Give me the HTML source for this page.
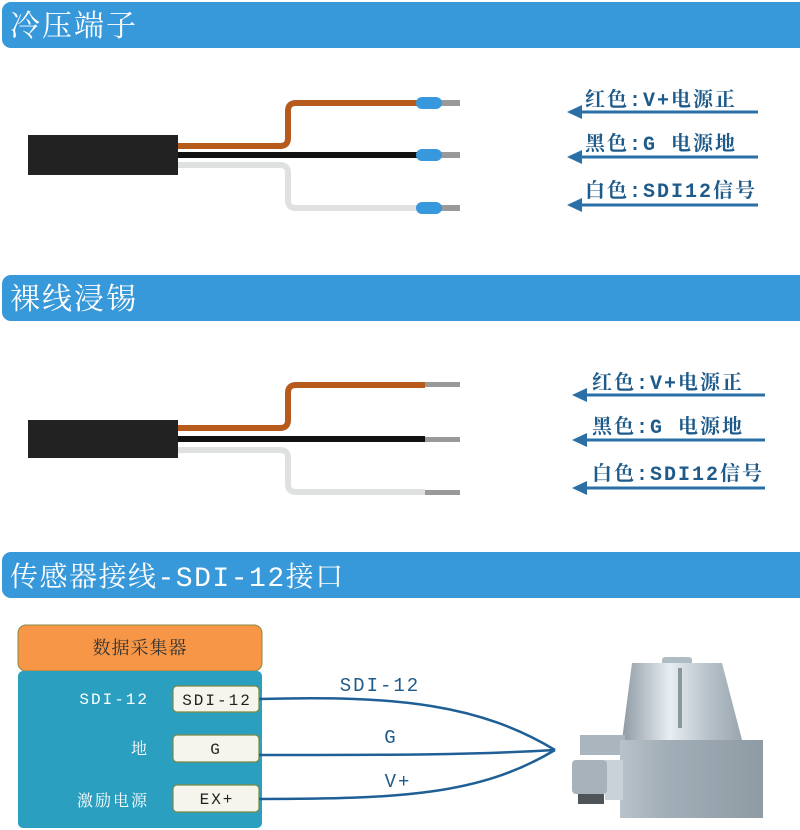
<!DOCTYPE html>
<html><head><meta charset="utf-8"><style>
body{margin:0;background:#fff;}
svg{display:block;}
text{font-family:"Liberation Mono","Noto Serif CJK SC","Noto Sans CJK SC",monospace;}
</style></head><body>
<svg width="800" height="830" viewBox="0 0 800 830" xmlns="http://www.w3.org/2000/svg">
<defs>
<linearGradient id="cone" x1="0" x2="1"><stop offset="0" stop-color="#8e9aa4"/><stop offset="0.4" stop-color="#e8eef2"/><stop offset="0.7" stop-color="#b9c4cc"/><stop offset="1" stop-color="#9aa6ae"/></linearGradient>
<linearGradient id="base" x1="0" x2="1"><stop offset="0" stop-color="#b8c2ca"/><stop offset="0.3" stop-color="#a3afb8"/><stop offset="1" stop-color="#8f9ba4"/></linearGradient>
</defs>
<!-- headers -->
<rect x="2" y="2" width="810" height="46" rx="9" fill="#3798da"/>
<text x="10" y="36" font-size="30" fill="#fff" letter-spacing="2">冷压端子</text>
<rect x="2" y="275" width="810" height="46" rx="9" fill="#3798da"/>
<text x="10" y="309" font-size="30" fill="#fff" letter-spacing="2">裸线浸锡</text>
<rect x="2" y="552" width="810" height="46" rx="9" fill="#3798da"/>
<text x="10" y="586" font-size="28" fill="#fff" letter-spacing="1.5">传感器接线-SDI-12接口</text>

<!-- section 1 -->
<g fill="none" stroke-width="6">
<path d="M178 146 H280 Q288 146 288 138 V111 Q288 103 296 103 H420" stroke="#b65b1c"/>
<path d="M178 155 H420" stroke="#111"/>
<path d="M178 165 H280 Q288 165 288 173 V200 Q288 208 296 208 H420" stroke="#dfe0e0"/>
</g>
<rect x="28" y="135" width="150" height="40" fill="#222"/>
<g fill="#999"><rect x="440" y="100" width="20" height="6"/><rect x="440" y="152" width="20" height="6"/><rect x="440" y="205" width="20" height="6"/></g>
<g fill="#3898de"><rect x="416" y="97" width="26" height="12" rx="6"/><rect x="416" y="149" width="26" height="12" rx="6"/><rect x="416" y="202" width="26" height="12" rx="6"/></g>
<g stroke="#2a6fa5" stroke-width="3"><line x1="575" y1="112" x2="758" y2="112"/><line x1="575" y1="157" x2="758" y2="157"/><line x1="575" y1="205" x2="758" y2="205"/></g>
<g fill="#2a6fa5"><path d="M567 112 L582 105 L582 119Z"/><path d="M567 157 L582 150 L582 164Z"/><path d="M567 205 L582 198 L582 212Z"/></g>
<g font-size="20" fill="#1e5b8a" font-weight="bold" letter-spacing="2"><text x="585" y="106">红色:V+电源正</text><text x="585" y="150">黑色:G 电源地</text><text x="585" y="197">白色:SDI12信号</text></g>

<!-- section 2 -->
<g fill="none" stroke-width="6">
<path d="M178 428 H280 Q288 428 288 420 V393 Q288 385 296 385 H425" stroke="#b65b1c"/>
<path d="M178 439 H425" stroke="#111"/>
<path d="M178 450 H280 Q288 450 288 458 V484 Q288 492 296 492 H425" stroke="#dfe0e0"/>
</g>
<rect x="28" y="420" width="150" height="38" fill="#222"/>
<g fill="#999"><rect x="425" y="382" width="35" height="5"/><rect x="425" y="437" width="35" height="5"/><rect x="425" y="490" width="35" height="5"/></g>
<g stroke="#2a6fa5" stroke-width="3"><line x1="580" y1="395" x2="765" y2="395"/><line x1="580" y1="440" x2="765" y2="440"/><line x1="580" y1="488" x2="765" y2="488"/></g>
<g fill="#2a6fa5"><path d="M572 395 L587 388 L587 402Z"/><path d="M572 440 L587 433 L587 447Z"/><path d="M572 488 L587 481 L587 495Z"/></g>
<g font-size="20" fill="#1e5b8a" font-weight="bold" letter-spacing="2"><text x="592" y="389">红色:V+电源正</text><text x="592" y="433">黑色:G 电源地</text><text x="592" y="480">白色:SDI12信号</text></g>

<!-- section 3 -->
<rect x="18" y="625" width="244" height="46" rx="8" fill="#f79646" stroke="#8a8a40" stroke-width="1"/>
<text x="140" y="654" font-size="18" fill="#333" text-anchor="middle" letter-spacing="1">数据采集器</text>
<rect x="18" y="671" width="244" height="157" rx="5" fill="#2a9fc0"/>
<g font-size="16" fill="#fff" text-anchor="end" letter-spacing="2"><text x="149" y="704">SDI-12</text><text x="149" y="754">地</text><text x="149" y="806">激励电源</text></g>
<g fill="#f5f5ee" stroke="#7a8a40" stroke-width="1.2"><rect x="173" y="686" width="86" height="26" rx="4"/><rect x="173" y="735" width="86" height="27" rx="4"/><rect x="173" y="785" width="86" height="27" rx="4"/></g>
<g font-size="16" fill="#222" text-anchor="middle" letter-spacing="2"><text x="217" y="705">SDI-12</text><text x="216" y="754">G</text><text x="217" y="804">EX+</text></g>
<g fill="none" stroke="#1e5f95" stroke-width="2.5">
<path d="M259 699 C400 695 480 705 555 750"/>
<path d="M259 755 C400 755 470 755 555 750"/>
<path d="M259 799 C400 799 480 795 555 750"/>
</g>
<g font-size="19" fill="#1e5b8a" text-anchor="middle" letter-spacing="2"><text x="380" y="691">SDI-12</text><text x="391" y="743">G</text><text x="398" y="787">V+</text></g>
<!-- sensor -->
<rect x="662" y="657" width="30" height="8" rx="3" fill="#b0bcc4"/>
<path d="M632 663 L722 663 L742 740 L622 740 Z" fill="url(#cone)"/>
<rect x="678" y="668" width="4" height="60" fill="#8a969e"/>
<rect x="580" y="735" width="45" height="20" fill="#aab5bd"/>
<rect x="620" y="740" width="143" height="78" fill="url(#base)"/>
<rect x="605" y="760" width="18" height="40" fill="#c8d2d8"/>
<rect x="572" y="760" width="35" height="34" rx="4" fill="#a7b2ba"/>
<rect x="578" y="794" width="26" height="10" fill="#4d555b"/>
</svg>
</body></html>
